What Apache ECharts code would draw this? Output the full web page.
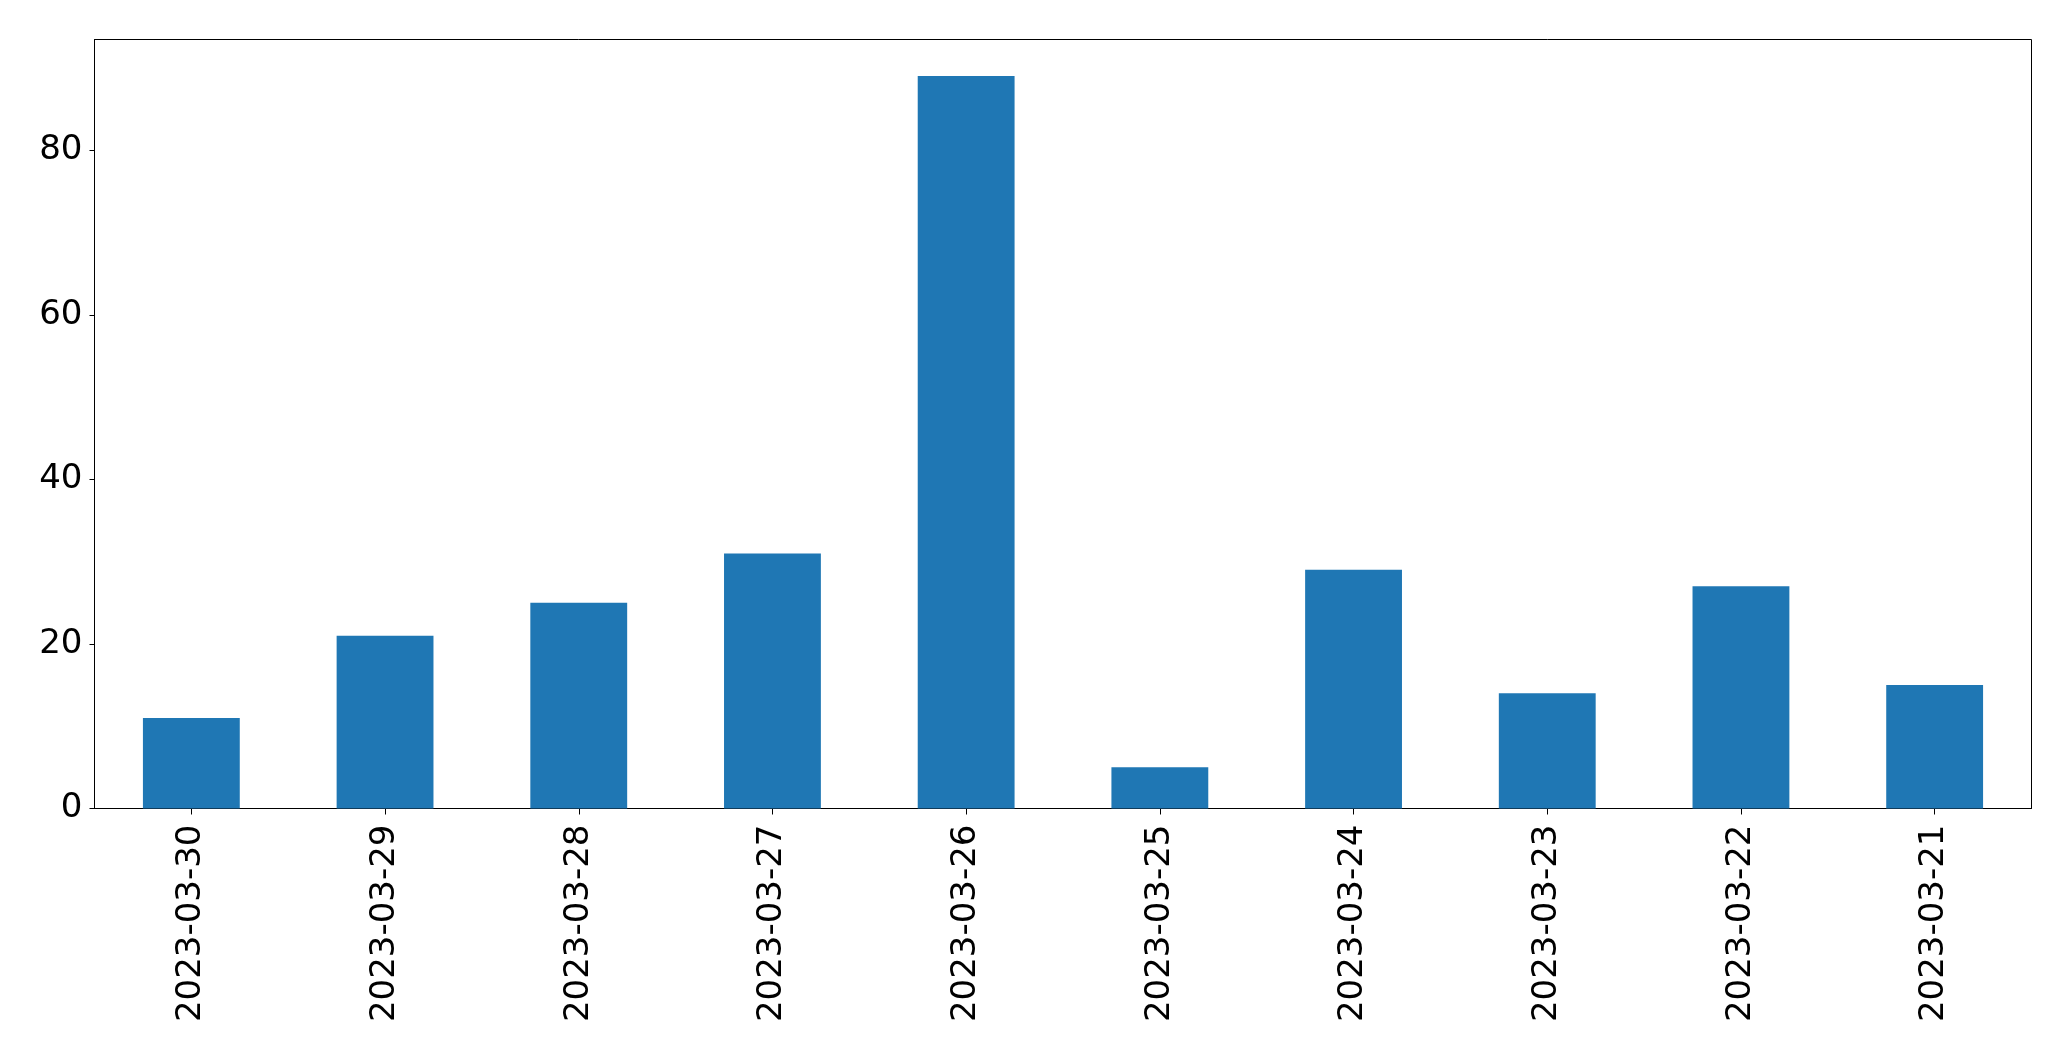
<!DOCTYPE html>
<html>
<head>
<meta charset="utf-8">
<script src="https://cdn.jsdelivr.net/npm/echarts@6/dist/echarts.min.js"></script>
<style>html,body{margin:0;padding:0;background:#fff}#c{width:2071px;height:1061px}</style>
</head>
<body>
<div id="c"></div>
<script>
const categories = ['2023-03-30','2023-03-29','2023-03-28','2023-03-27','2023-03-26','2023-03-25','2023-03-24','2023-03-23','2023-03-22','2023-03-21'];
const values = [11, 21, 25, 31, 89, 5, 29, 14, 27, 15];
const yTicks = [0, 20, 40, 60, 80];

const chart = echarts.init(document.getElementById('c'), null, {renderer: 'canvas'});
const font = 'DejaVu Sans';
chart.setOption({
  animation: false,
  backgroundColor: '#fff',
  grid: {left: 94.5, right: 39.5, top: 39.5, bottom: 252.5, show: true, borderColor: '#000', borderWidth: 1, containLabel: false},
  xAxis: {
    type: 'category', data: categories,
    axisLine: {show: true, lineStyle: {color: '#000', width: 1}},
    axisTick: {show: true, alignWithLabel: true, length: 6, lineStyle: {color: '#000', width: 1}},
    axisLabel: {rotate: 90, margin: 16, fontFamily: font, fontSize: 34, color: '#000', interval: 0},
    splitLine: {show: false}
  },
  yAxis: {
    type: 'value', min: 0, max: 93.45, interval: 20,
    axisLine: {show: true, lineStyle: {color: '#000', width: 1}},
    axisTick: {show: true, length: 5, customValues: yTicks, lineStyle: {color: '#000', width: 1}},
    axisLabel: {margin: 12, fontFamily: font, fontSize: 34, color: '#000', customValues: yTicks},
    splitLine: {show: false}
  },
  series: [{
    type: 'bar', data: values, barWidth: '50%',
    itemStyle: {color: '#1f77b4'}
  }]
});
</script>
</body>
</html>
